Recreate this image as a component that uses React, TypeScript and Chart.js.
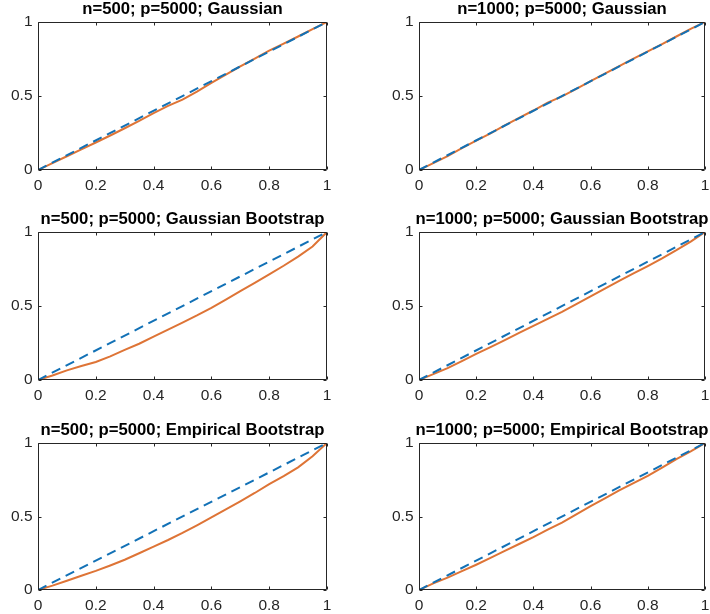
import React, { useEffect, useRef } from 'react';
import { Chart, registerables } from 'chart.js';

Chart.register(...registerables);

// ---------------- data ----------------
const X_GRID = [0, 0.05, 0.1, 0.15, 0.2, 0.25, 0.3, 0.35, 0.4, 0.45, 0.5, 0.55, 0.6, 0.65, 0.7, 0.75, 0.8, 0.85, 0.9, 0.95, 1];
const DIAG_X = [0, 1];
const DIAG_Y = [0, 1];
const X_TICKS = [0, 0.2, 0.4, 0.6, 0.8, 1];
const Y_TICKS = [0, 0.5, 1];

const TITLE_500_GAUSS = 'n=500; p=5000; Gaussian';
const TITLE_1000_GAUSS = 'n=1000; p=5000; Gaussian';
const TITLE_500_GBOOT = 'n=500; p=5000; Gaussian Bootstrap';
const TITLE_1000_GBOOT = 'n=1000; p=5000; Gaussian Bootstrap';
const TITLE_500_EBOOT = 'n=500; p=5000; Empirical Bootstrap';
const TITLE_1000_EBOOT = 'n=1000; p=5000; Empirical Bootstrap';

const Y_500_GAUSS = [0, 0.046, 0.093, 0.14, 0.186, 0.233, 0.282, 0.332, 0.385, 0.433, 0.476, 0.53, 0.588, 0.645, 0.7, 0.752, 0.806, 0.854, 0.902, 0.952, 1];
const Y_1000_GAUSS = [0, 0.046, 0.094, 0.148, 0.199, 0.248, 0.302, 0.352, 0.402, 0.455, 0.497, 0.548, 0.6, 0.651, 0.702, 0.752, 0.802, 0.851, 0.902, 0.953, 1];
const Y_500_GBOOT = [0, 0.03, 0.065, 0.095, 0.122, 0.16, 0.203, 0.245, 0.293, 0.34, 0.388, 0.436, 0.487, 0.543, 0.601, 0.656, 0.713, 0.772, 0.834, 0.902, 1];
const Y_1000_GBOOT = [0, 0.04, 0.08, 0.128, 0.176, 0.222, 0.27, 0.318, 0.366, 0.413, 0.46, 0.512, 0.565, 0.618, 0.67, 0.72, 0.77, 0.822, 0.877, 0.935, 1];
const Y_500_EBOOT = [0, 0.03, 0.063, 0.097, 0.13, 0.167, 0.206, 0.25, 0.295, 0.34, 0.388, 0.44, 0.494, 0.548, 0.603, 0.66, 0.72, 0.775, 0.834, 0.91, 1];
const Y_1000_EBOOT = [0, 0.045, 0.084, 0.128, 0.172, 0.218, 0.266, 0.313, 0.36, 0.41, 0.459, 0.515, 0.57, 0.623, 0.677, 0.727, 0.777, 0.832, 0.89, 0.943, 1];

// ---------------- styling / layout ----------------
const FONT = "'Liberation Sans', Arial, Helvetica, sans-serif";
const AXIS_COLOR = '#262626';
const BLUE = '#1271B6';
const ORANGE = '#DE7436';
const PAD_SIDE = 38;
const PAD_TOP = 23;
const PAD_BOTTOM = 30;

const boxPlugin = {
  id: 'matlabBox',
  afterDatasetsDraw(chart: any) {
    const { ctx, chartArea: a, scales } = chart;
    const snap = (v: number) => Math.round(v) + 0.5;
    const L = snap(a.left);
    const R = snap(a.right) - 1;
    const T = snap(a.top);
    const B = snap(a.bottom) - 1;
    ctx.save();
    ctx.strokeStyle = AXIS_COLOR;
    ctx.lineWidth = 1;
    ctx.beginPath();
    ctx.rect(L, T, R - L, B - T);
    const tl = 3;
    scales.x.ticks.forEach((t: any) => {
      const px = snap(scales.x.getPixelForValue(t.value));
      ctx.moveTo(px, B);
      ctx.lineTo(px, B - tl);
      ctx.moveTo(px, T);
      ctx.lineTo(px, T + tl);
    });
    scales.y.ticks.forEach((t: any) => {
      const py = snap(scales.y.getPixelForValue(t.value));
      ctx.moveTo(L, py);
      ctx.lineTo(L + tl, py);
      ctx.moveTo(R, py);
      ctx.lineTo(R - tl, py);
    });
    ctx.stroke();
    ctx.restore();
  },
};

type PanelProps = { title: string; ys: number[]; left: number; top: number; w: number; h: number };

function Panel({ title, ys, left, top, w, h }: PanelProps) {
  const ref = useRef<HTMLCanvasElement | null>(null);
  const cw = w + 2 * PAD_SIDE;
  const ch = h + PAD_TOP + PAD_BOTTOM;
  useEffect(() => {
    if (!ref.current) return;
    const tickFont = { family: FONT, size: 15.5 };
    const chart = new Chart(ref.current, {
      type: 'line',
      data: {
        datasets: [
          {
            data: DIAG_X.map((x, i) => ({ x, y: DIAG_Y[i] })),
            borderColor: BLUE,
            borderWidth: 2,
            borderDash: [9.5, 6],
            pointRadius: 0,
            tension: 0,
            fill: false,
          },
          {
            data: X_GRID.map((x, i) => ({ x, y: ys[i] })),
            borderColor: ORANGE,
            borderWidth: 2,
            pointRadius: 0,
            tension: 0,
            fill: false,
          },
        ],
      },
      options: {
        animation: false,
        responsive: false,
        devicePixelRatio: window.devicePixelRatio || 1,
        layout: { padding: 0, autoPadding: false },
        plugins: {
          legend: { display: false },
          tooltip: { enabled: false },
          title: {
            display: true,
            text: title,
            color: '#000',
            align: 'center',
            fullSize: true,
            padding: { top: 0, bottom: 3 },
            font: { family: FONT, size: 16.7, weight: 'bold', lineHeight: '20px' },
          },
        },
        scales: {
          x: {
            type: 'linear',
            min: 0,
            max: 1,
            afterBuildTicks: (s: any) => {
              s.ticks = X_TICKS.map((v) => ({ value: v }));
            },
            afterFit: (s: any) => {
              s.height = PAD_BOTTOM;
            },
            grid: { display: false, drawTicks: false },
            border: { display: false },
            ticks: {
              color: AXIS_COLOR,
              padding: 6.5,
              maxRotation: 0,
              autoSkip: false,
              font: tickFont,
              callback: (v: any) => String(v),
            },
          },
          y: {
            type: 'linear',
            position: 'left',
            min: 0,
            max: 1,
            afterBuildTicks: (s: any) => {
              s.ticks = Y_TICKS.map((v) => ({ value: v }));
            },
            afterFit: (s: any) => {
              s.width = PAD_SIDE;
            },
            grid: { display: false, drawTicks: false },
            border: { display: false },
            ticks: {
              color: AXIS_COLOR,
              padding: 5.5,
              autoSkip: false,
              font: tickFont,
              callback: (v: any) => String(v),
            },
          },
          yRight: {
            type: 'linear',
            position: 'right',
            min: 0,
            max: 1,
            afterBuildTicks: (s: any) => {
              s.ticks = Y_TICKS.map((v) => ({ value: v }));
            },
            afterFit: (s: any) => {
              s.width = PAD_SIDE;
            },
            grid: { display: false, drawTicks: false },
            border: { display: false },
            ticks: { display: false },
          },
        },
      },
      plugins: [boxPlugin],
    } as any);
    return () => chart.destroy();
  }, [title, ys, w, h]);
  return (
    <canvas
      ref={ref}
      width={cw}
      height={ch}
      style={{ position: 'absolute', left: left - PAD_SIDE, top: top - PAD_TOP, width: cw, height: ch }}
    />
  );
}

const COL_LEFT = [38, 419];
const COL_RIGHT = [327, 705];
const ROW_TOP = [22, 232, 443];
const ROW_BOTTOM = [170, 380, 590];

export default function App() {
  const panels = [
    { title: TITLE_500_GAUSS, ys: Y_500_GAUSS, c: 0, r: 0 },
    { title: TITLE_1000_GAUSS, ys: Y_1000_GAUSS, c: 1, r: 0 },
    { title: TITLE_500_GBOOT, ys: Y_500_GBOOT, c: 0, r: 1 },
    { title: TITLE_1000_GBOOT, ys: Y_1000_GBOOT, c: 1, r: 1 },
    { title: TITLE_500_EBOOT, ys: Y_500_EBOOT, c: 0, r: 2 },
    { title: TITLE_1000_EBOOT, ys: Y_1000_EBOOT, c: 1, r: 2 },
  ];
  return (
    <div style={{ position: 'absolute', left: 0, top: 0, width: 710, height: 614, overflow: 'hidden', background: '#fff' }}>
      {panels.map((p, i) => (
        <Panel
          key={i}
          title={p.title}
          ys={p.ys}
          left={COL_LEFT[p.c]}
          top={ROW_TOP[p.r]}
          w={COL_RIGHT[p.c] - COL_LEFT[p.c]}
          h={ROW_BOTTOM[p.r] - ROW_TOP[p.r]}
        />
      ))}
    </div>
  );
}
